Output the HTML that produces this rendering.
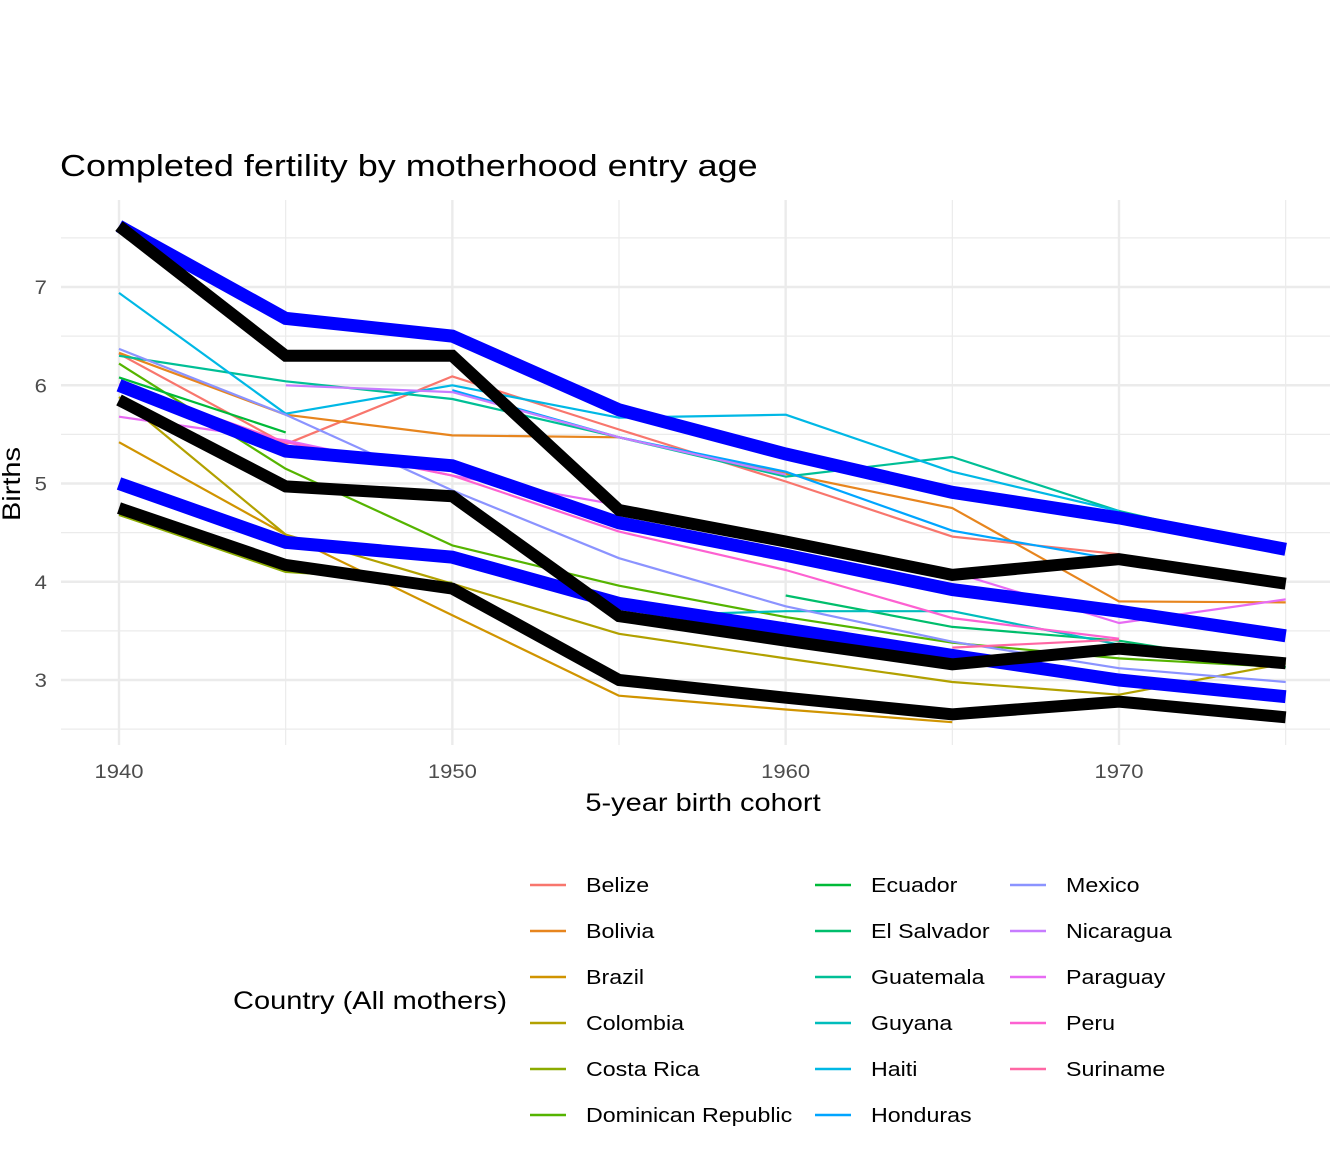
<!DOCTYPE html>
<html><head><meta charset="utf-8">
<style>
body{margin:0;background:#fff;}
svg text{font-family:"Liberation Sans",Arial,sans-serif;}
</style></head>
<body>
<svg id="chart" width="1344" height="1152" viewBox="0 0 1344 1152" xmlns="http://www.w3.org/2000/svg">
<rect width="1344" height="1152" fill="#fff"/>
<text x="60" y="176" font-size="31" fill="#000">Completed fertility by motherhood entry age</text>
<g id="grid"></g>
<g id="ticks"></g>
<g id="thin"></g>
<g id="thick"></g>
<text x="703" y="811" font-size="25" text-anchor="middle" fill="#000">5-year birth cohort</text>
<text transform="translate(20,484) rotate(-90)" font-size="25" text-anchor="middle" fill="#000">Births</text>
<text x="233" y="1009" font-size="25" fill="#000">Country (All mothers)</text>
<g id="legend"></g>
</svg>
<script>
const years = [1940,1945,1950,1955,1960,1965,1970,1975];
const countries = ["Belize","Bolivia","Brazil","Colombia","Costa Rica","Dominican Republic","Ecuador","El Salvador","Guatemala","Guyana","Haiti","Honduras","Mexico","Nicaragua","Paraguay","Peru","Suriname"];
const colors = ["#F8766D","#E7851E","#D09400","#B2A100","#8BAB00","#55B400","#00BA38","#00BE6C","#00BF96","#00BDBC","#00B8E5","#00A5FF","#8B93FF","#C77CFF","#E76BF3","#FD61D1","#FF67A4"];
const belize = [6.32,5.40,6.09,5.55,5.02,4.46,4.28,null];
const bolivia = [6.33,5.70,5.49,5.47,5.10,4.75,3.80,3.79];
const brazil = [5.42,4.48,3.66,2.84,2.70,2.57,null,null];
const colombia = [5.88,4.48,3.98,3.47,3.22,2.98,2.85,3.17];
const costaRica = [4.68,4.10,3.99,null,null,null,null,null];
const dominican = [6.22,5.15,4.37,3.96,3.64,3.38,3.22,3.13];
const ecuador = [6.08,5.52,null,null,null,null,null,null];
const elSalvador = [null,null,null,null,3.86,3.54,3.40,3.13];
const guatemala = [6.30,6.04,5.86,5.47,5.07,5.27,4.72,4.33];
const guyana = [null,null,null,3.65,3.70,3.70,3.36,null];
const haiti = [6.94,5.71,6.00,5.67,5.70,5.12,4.72,null];
const honduras = [null,null,5.95,5.47,5.12,4.52,4.22,null];
const mexico = [6.37,5.70,4.93,4.24,3.75,3.39,3.12,2.98];
const nicaragua = [null,6.00,5.93,5.47,5.09,null,null,null];
const paraguay = [5.68,5.44,5.08,4.78,4.42,4.10,3.58,3.82];
const peru = [6.01,5.42,5.08,4.51,4.12,3.63,3.42,null];
const suriname = [null,null,null,null,null,3.33,3.41,null];
const series = [belize,bolivia,brazil,colombia,costaRica,dominican,ecuador,elSalvador,guatemala,guyana,haiti,honduras,mexico,nicaragua,paraguay,peru,suriname];
const blueHigh = [7.62,6.68,6.50,5.75,5.30,4.91,4.65,4.33];
const blueMid = [6.00,5.33,5.18,4.60,4.27,3.92,3.70,3.45];
const blueLow = [5.00,4.40,4.25,3.78,3.52,3.25,3.00,2.83];
const blackHigh = [7.62,6.30,6.30,4.73,4.41,4.07,4.23,3.98];
const blackMid = [5.85,4.97,4.87,3.65,3.40,3.16,3.32,3.17];
const blackLow = [4.75,4.17,3.93,3.00,2.82,2.65,2.78,2.62];
const yTicks = [3,4,5,6,7];
const xTicks = [1940,1950,1960,1970];

const NS="http://www.w3.org/2000/svg";
function X(yr){return 119+(yr-1940)*(1000/30);}
function Y(v){return 680-(v-3)*98.25;}
function mk(tag,attrs,parent){const e=document.createElementNS(NS,tag);for(const k in attrs)e.setAttribute(k,attrs[k]);parent.appendChild(e);return e;}
const grid=document.getElementById('grid'), ticks=document.getElementById('ticks');
for(let v=2.5;v<=7.5;v+=0.5){
  const major=Number.isInteger(v);
  const l=mk('line',{x1:61,x2:1330,y1:Y(v),y2:Y(v),stroke:'#ebebeb','stroke-width':major?2.4:1.2},grid);
  
  
}
for(let yr=1940;yr<=1975;yr+=5){
  const major=yr%10===0;
  const l=mk('line',{x1:X(yr),x2:X(yr),y1:200,y2:745,stroke:'#ebebeb','stroke-width':major?2.4:1.2},grid);
  
  
}
yTicks.forEach(v=>{
  const t=mk('text',{x:47,y:Y(v)+7,'font-size':19,'text-anchor':'end',fill:'#4d4d4d'},ticks);t.textContent=v;
  
  
});
xTicks.forEach(v=>{
  const t=mk('text',{x:X(v),y:778,'font-size':19,'text-anchor':'middle',fill:'#4d4d4d'},ticks);t.textContent=v;
  
  
});
function paths(vals){
  const segs=[];let cur=[];
  vals.forEach((v,i)=>{if(v==null){if(cur.length)segs.push(cur);cur=[];}else cur.push(X(years[i]).toFixed(1)+','+Y(v).toFixed(1));});
  if(cur.length)segs.push(cur);
  return segs.filter(s=>s.length>1).map(s=>'M'+s.join('L')).join(' ');
}
const thin=document.getElementById('thin');
series.forEach((s,i)=>{
  const p=mk('path',{d:paths(s),fill:'none',stroke:colors[i],'stroke-width':2.2,'stroke-linejoin':'round'},thin);
  
  
});
const thick=document.getElementById('thick');
[[blueHigh,'blue','summary-blue-high'],[blueMid,'blue','summary-blue-mid'],[blueLow,'blue','summary-blue-low'],
 [blackHigh,'#000','summary-black-high'],[blackMid,'#000','summary-black-mid'],[blackLow,'#000','summary-black-low']].forEach(([s,c,n])=>{
  const p=mk('path',{d:paths(s),fill:'none',stroke:c,'stroke-width':c==='blue'?13:12,'stroke-linejoin':'miter'},thick);
  
  
});
const leg=document.getElementById('legend');
const colX=[530,815,1010];
countries.forEach((c,i)=>{
  const col=Math.floor(i/6), row=i%6;
  const y=885+row*46;
  const g=mk('g',{},leg);
  
  
  mk('line',{x1:colX[col],x2:colX[col]+36,y1:y,y2:y,stroke:colors[i],'stroke-width':2.5},g);
  const t=mk('text',{x:colX[col]+56,y:y+7,'font-size':20,fill:'#000'},g);t.textContent=c;
});
document.querySelectorAll('svg text').forEach(t=>{
  const w=t.getComputedTextLength();
  if(w>0){t.setAttribute('textLength',(w*1.16).toFixed(1));t.setAttribute('lengthAdjust','spacingAndGlyphs');}
});
</script>
</body></html>
